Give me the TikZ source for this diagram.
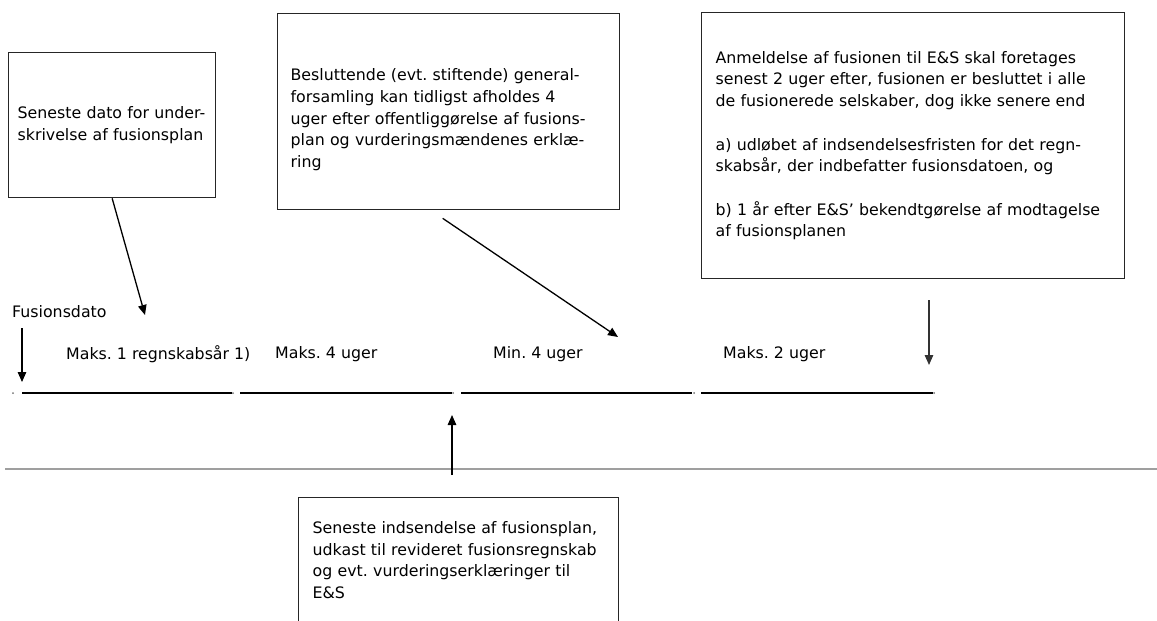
\documentclass[tikz,border=0pt]{standalone}
\usepackage{fontspec}
\setmainfont{DejaVu Sans}
\usetikzlibrary{arrows.meta}
\frenchspacing

\begin{document}
\begin{tikzpicture}[x=1pt,y=-1pt,
  note/.style={draw=black!85,line width=1.3pt,anchor=north west,align=left,inner xsep=13pt,
    font=\fontsize{15.8}{21.7}\selectfont},
  tag/.style={anchor=west,inner sep=0pt,font=\fontsize{15.8}{19}\selectfont},
  pointer/.style={line width=1.3pt,-{Triangle[length=10pt,width=8.5pt]}},
  period/.style={line width=1.3pt}]
  \useasboundingbox (0,0) rectangle (1157,621);
  \draw[gray!75,line width=2.5pt] (5,469) -- (1157,469);
  \node[note,inner xsep=9pt,minimum width=207pt,minimum height=145pt,text width=189pt] (signing) at (8,52)
    {Seneste dato for under-\\skrivelse af fusionsplan};
  \node[note,minimum width=342pt,minimum height=196pt,text width=316pt] (meeting) at (277,13)
    {\rule{0pt}{28pt}Besluttende (evt. stiftende) general-\\forsamling kan tidligst afholdes 4\\uger efter offentligg\o relse af fusions-\\plan og vurderingsm\ae ndenes erkl\ae-\\ring};
  \node[note,inner xsep=14pt,minimum width=423pt,minimum height=266pt,text width=395pt] (notice) at (701,12)
    {Anmeldelse af fusionen til E\&S skal foretages\\senest 2 uger efter, fusionen er besluttet i alle\\de fusionerede selskaber, dog ikke senere end\\[21.7pt]
     a) udl\o bet af indsendelsesfristen for det regn-\\skabsår, der indbefatter fusionsdatoen, og\\[21.7pt]
     b) 1 år efter E\&S’ bekendtg\o relse af modtagelse\\af fusionsplanen};
  \node[note,inner xsep=14pt,minimum width=320pt,minimum height=128pt,text width=292pt] (filing) at (298,497)
    {\begin{tabular}{@{}l@{}}Seneste indsendelse af fusionsplan,\\udkast til revideret fusionsregnskab\\og evt. vurderingserkl\ae ringer til\\E\&S\end{tabular}};
  \node[tag] (fdate) at (12,312) {Fusionsdato};
  \node[tag] (span1) at (66,354) {Maks. 1 regnskabsår 1)};
  \node[tag] (span2) at (275,354) {Maks. 4 uger};
  \node[tag] (span3) at (493,354) {Min. 4 uger};
  \node[tag] (span4) at (723,354) {Maks. 2 uger};
  \foreach \a/\b in {22/232,240/452,461/692,701/933}
    \draw[period] (\a,393) -- (\b,393);
  \foreach \d in {13,233,453,694,934}
    \fill[black!55] (\d,393) circle[radius=1pt];
  \coordinate (fdate-tail) at (22,328);
  \coordinate (fdate-tip) at (22,382);
  \coordinate (signing-tip) at (145,315);
  \coordinate (meeting-tip) at (618,337);
  \coordinate (notice-tail) at (929,300);
  \coordinate (notice-tip) at (929,365);
  \coordinate (filing-tail) at (452,475);
  \coordinate (filing-tip) at (452,415);
  \draw[pointer] (fdate-tail) -- (fdate-tip);
  \draw[pointer] (signing.south) -- (signing-tip);
  \draw[pointer] ([xshift=-6pt,yshift=-8pt]meeting.south) -- (meeting-tip);
  \draw[pointer,black!80] (notice-tail) -- (notice-tip);
  \draw[pointer] (filing-tail) -- (filing-tip);
\end{tikzpicture}
\end{document}
